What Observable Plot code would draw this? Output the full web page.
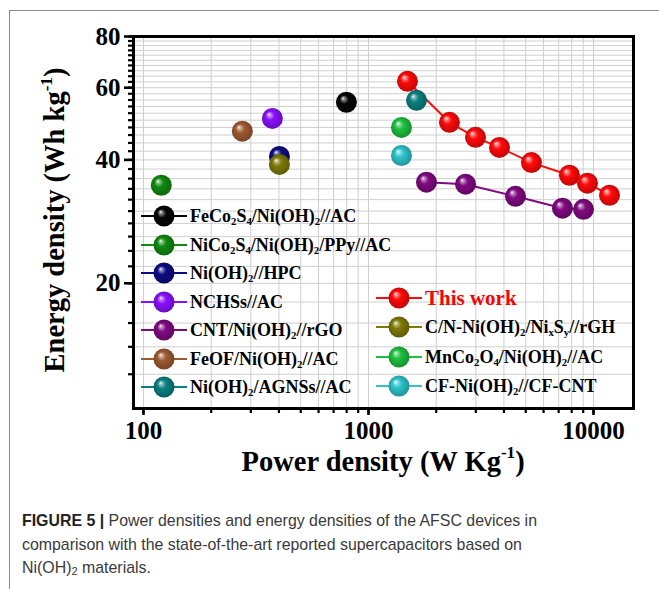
<!DOCTYPE html>
<html>
<head>
<meta charset="utf-8">
<script src="https://cdn.jsdelivr.net/npm/d3@7"></script>
<script src="https://cdn.jsdelivr.net/npm/@observablehq/plot@0.6"></script>
<style>
  html, body { margin: 0; padding: 0; background: #fff; }
  #fig { position: relative; width: 659px; height: 589px; overflow: hidden; background: #fff; }
  #border { position: absolute; left: 9px; top: 10px; width: 700px; height: 700px;
            border-left: 1.5px solid #8a8a8a; border-top: 1.5px solid #8a8a8a; }
  #chart { position: absolute; left: 0; top: 0; }
  .serif { font-family: "Liberation Serif", "Times New Roman", serif; font-weight: bold; color: #000; }
  .leg { position: absolute; height: 24px; display: flex; align-items: center; white-space: nowrap; }
  .leg svg { flex: none; }
  .leg span { margin-left: 3px; font-size: 18px; line-height: 24px; }
  .leg sub, .ttl sup { font-size: 0.6em; line-height: 0; }
  .leg sub { vertical-align: -0.28em; }
  .ttl { position: absolute; font-size: 28.5px; white-space: nowrap; line-height: 32px; }
  .ttl sup { vertical-align: 0.75em; }
  #caption { position: absolute; left: 22px; top: 509px; width: 535px; font-family: "Liberation Sans", Arial, sans-serif;
             font-size: 15.9px; line-height: 23.5px; color: #3a3a3a; }
  #caption b { color: #222; }
  #caption sub { font-size: 0.7em; vertical-align: -0.2em; line-height: 0; }
</style>
</head>
<body>
<div id="fig">
  <div id="border"></div>
  <svg width="0" height="0" style="position:absolute"><defs id="grads"></defs></svg>
  <div id="chart"></div>
  <div id="legends"></div>
  <div class="ttl serif" id="xtitle">Power density (W Kg<sup>-1</sup>)</div>
  <div class="ttl serif" id="ytitle">Energy density (Wh kg<sup>-1</sup>)</div>
  <div id="caption"><b>FIGURE 5 |</b> Power densities and energy densities of the AFSC devices in comparison with the state-of-the-art reported supercapacitors based on Ni(OH)<sub>2</sub> materials.</div>
</div>
<script>
// ---------------- data ----------------
// This work (AFSC)
const thisWorkPower  = [1490, 2290, 2990, 3820, 5300, 7820, 9400, 11780];
const thisWorkEnergy = [62.2, 49.4, 45.4, 42.9, 39.4, 36.7, 35.1, 32.8];
// CNT/Ni(OH)2//rGO
const cntPower  = [1810, 2700, 4500, 7280, 9030];
const cntEnergy = [35.3, 34.9, 32.6, 30.5, 30.3];
// single-point references
const refNames  = ["FeCo2S4/Ni(OH)2//AC", "NiCo2S4/Ni(OH)2/PPy//AC", "Ni(OH)2//HPC", "NCHSs//AC",
                   "FeOF/Ni(OH)2//AC", "Ni(OH)2/AGNSs//AC", "C/N-Ni(OH)2/NixSy//rGH",
                   "MnCo2O4/Ni(OH)2//AC", "CF-Ni(OH)2//CF-CNT"];
const refPower  = [798, 120, 402, 374, 275, 1635, 402, 1402, 1402];
const refEnergy = [55.3, 34.7, 40.8, 50.5, 47.0, 55.9, 39.0, 48.0, 41.0];

// legend entries (label markup with subscripts)
const legendLeft  = ["FeCo<sub>2</sub>S<sub>4</sub>/Ni(OH)<sub>2</sub>//AC",
                     "NiCo<sub>2</sub>S<sub>4</sub>/Ni(OH)<sub>2</sub>/PPy//AC",
                     "Ni(OH)<sub>2</sub>//HPC", "NCHSs//AC",
                     "CNT/Ni(OH)<sub>2</sub>//rGO",
                     "FeOF/Ni(OH)<sub>2</sub>//AC",
                     "Ni(OH)<sub>2</sub>/AGNSs//AC"];
const legendRight = ["This work",
                     "C/N-Ni(OH)<sub>2</sub>/Ni<sub>x</sub>S<sub>y</sub>//rGH",
                     "MnCo<sub>2</sub>O<sub>4</sub>/Ni(OH)<sub>2</sub>//AC",
                     "CF-Ni(OH)<sub>2</sub>//CF-CNT"];

// axis ticks
const xMajor = [100, 1000, 10000];
const xMinor = [100,200,300,400,500,600,700,800,900,1000,2000,3000,4000,5000,6000,7000,8000,9000,10000];
const yMajor = [20, 40, 60, 80];
const yMinor = [12,14,16,18,20,22,24,26,28,30,32,34,36,38,40,42,44,46,48,50,52,54,56,58,60,62,64,66,68,70,72,74,76,78,80];

// ---------------- colours / gradients ----------------
const colors = {
  "FeCo2S4/Ni(OH)2//AC": "#050505",
  "NiCo2S4/Ni(OH)2/PPy//AC": "#108a10",
  "Ni(OH)2//HPC": "#0c0c82",
  "NCHSs//AC": "#8a10ff",
  "CNT/Ni(OH)2//rGO": "#800a80",
  "FeOF/Ni(OH)2//AC": "#9e5a30",
  "Ni(OH)2/AGNSs//AC": "#0b8080",
  "This work": "#ff0a0a",
  "C/N-Ni(OH)2/NixSy//rGH": "#7e7a08",
  "MnCo2O4/Ni(OH)2//AC": "#1ec040",
  "CF-Ni(OH)2//CF-CNT": "#2ec4cc"
};
const names = Object.keys(colors);
const gid = n => "g" + names.indexOf(n);
const defs = d3.select("#grads");
for (const n of names) {
  const c = d3.color(colors[n]);
  const g = defs.append("radialGradient").attr("id", gid(n))
    .attr("cx", "50%").attr("cy", "50%").attr("r", "55%").attr("fx", "33%").attr("fy", "30%");
  g.append("stop").attr("offset", "0%").attr("stop-color", "#ffffff");
  g.append("stop").attr("offset", "12%").attr("stop-color", d3.interpolateRgb(c, "#fff")(0.55));
  g.append("stop").attr("offset", "38%").attr("stop-color", c.formatHex());
  g.append("stop").attr("offset", "100%").attr("stop-color", c.darker(0.9).formatHex());
}
const fillOf = n => `url(#${gid(n)})`;

// ---------------- tables ----------------
const thisWork = thisWorkPower.map((p, i) => ({power: p, energy: thisWorkEnergy[i]}));
const cnt = cntPower.map((p, i) => ({power: p, energy: cntEnergy[i]}));
const refs = refNames.map((n, i) => ({name: n, power: refPower[i], energy: refEnergy[i]}));

const R = 10.5;
const marks = [
  Plot.gridX(xMinor, {stroke: "#cfcfcf", strokeOpacity: 1, strokeWidth: 1}),
  Plot.gridY(yMinor, {stroke: "#cfcfcf", strokeOpacity: 1, strokeWidth: 1}),
  Plot.axisY(yMinor, {tickSize: 5, strokeWidth: 2.2, tickFormat: () => ""}),
  Plot.axisY(yMajor, {tickSize: 9, tickPadding: 4, strokeWidth: 2.6, fontSize: 25, fontWeight: "bold", tickFormat: d => String(d)}),
  Plot.axisX(xMinor, {tickSize: 5, strokeWidth: 2.2, tickFormat: () => ""}),
  Plot.axisX(xMajor, {tickSize: 7, tickPadding: 6, strokeWidth: 2.6, fontSize: 25, fontWeight: "bold", tickFormat: d => String(d)}),
  Plot.line(thisWork, {x: "power", y: "energy", stroke: colors["This work"], strokeWidth: 2}),
  Plot.line(cnt, {x: "power", y: "energy", stroke: colors["CNT/Ni(OH)2//rGO"], strokeWidth: 2}),
  Plot.dot(thisWork, {x: "power", y: "energy", r: R, fill: fillOf("This work"), stroke: null}),
  Plot.dot(cnt, {x: "power", y: "energy", r: R, fill: fillOf("CNT/Ni(OH)2//rGO"), stroke: null})
];
for (const n of refNames) {
  marks.push(Plot.dot(refs.filter(d => d.name === n), {x: "power", y: "energy", r: R, fill: fillOf(n), stroke: null}));
}
marks.push(Plot.frame({stroke: "#000", strokeWidth: 3}));

const chart = Plot.plot({
  width: 659,
  height: 480,
  marginLeft: 133,
  marginRight: 26,
  marginTop: 36,
  marginBottom: 72,
  style: {fontFamily: "'Liberation Serif', 'Times New Roman', serif", color: "#000", background: "transparent"},
  x: {type: "log", domain: [90.3, 15060], label: null},
  y: {type: "log", domain: [9.9, 80], label: null},
  marks
});
document.getElementById("chart").appendChild(chart);

// ---------------- legend (HTML overlay) ----------------
const legendKeys = {
  left: ["FeCo2S4/Ni(OH)2//AC", "NiCo2S4/Ni(OH)2/PPy//AC", "Ni(OH)2//HPC", "NCHSs//AC",
         "CNT/Ni(OH)2//rGO", "FeOF/Ni(OH)2//AC", "Ni(OH)2/AGNSs//AC"],
  right: ["This work", "C/N-Ni(OH)2/NixSy//rGH", "MnCo2O4/Ni(OH)2//AC", "CF-Ni(OH)2//CF-CNT"]
};
function addLegend(keys, labels, left, top0, step) {
  const host = document.getElementById("legends");
  keys.forEach((k, i) => {
    const row = document.createElement("div");
    row.className = "leg serif";
    row.style.left = left + "px";
    row.style.top = (top0 + i * step - 12) + "px";
    const c = colors[k];
    row.innerHTML = `<svg width="46" height="24"><line x1="0" x2="46" y1="12" y2="12" stroke="${c}" stroke-width="2"/>` +
      `<circle cx="23" cy="12" r="${R}" fill="${fillOf(k)}"/></svg>` +
      `<span style="${k === "This work" ? "color:#ff0000;font-size:21px" : ""}">${labels[i]}</span>`;
    host.appendChild(row);
  });
}
addLegend(legendKeys.left, legendLeft, 141, 216, 28.5);
addLegend(legendKeys.right, legendRight, 376, 298, 29.3);

// ---------------- axis titles ----------------
const xt = document.getElementById("xtitle");
xt.style.left = (383 - xt.offsetWidth / 2) + "px";
xt.style.top = (462 - xt.offsetHeight / 2) + "px";
const yt = document.getElementById("ytitle");
yt.style.left = (55 - yt.offsetWidth / 2) + "px";
yt.style.top = (220 - yt.offsetHeight / 2) + "px";
yt.style.transform = "rotate(-90deg)";
</script>
</body>
</html>
